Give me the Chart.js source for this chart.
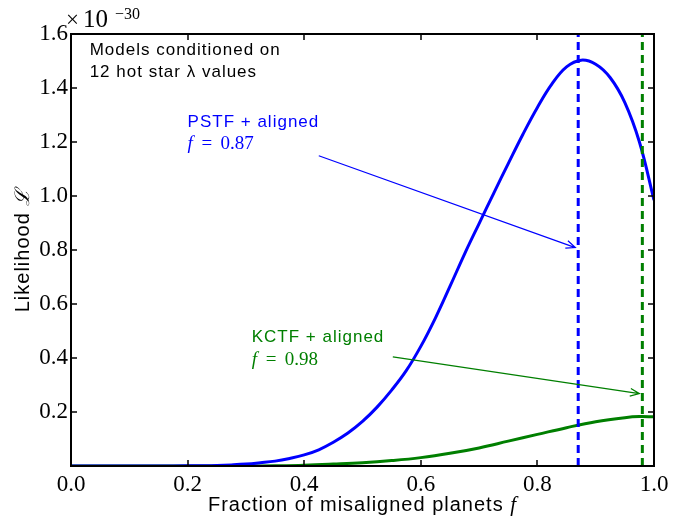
<!DOCTYPE html>
<html>
<head>
<meta charset="utf-8">
<script src="https://cdn.jsdelivr.net/npm/chart.js@4.4.0/dist/chart.umd.min.js"></script>
<style>
  html, body { margin: 0; padding: 0; background: #fff; }
  #wrap { width: 685px; height: 518px; }
</style>
</head>
<body>
<div id="wrap"><canvas id="likelihood-chart" width="685" height="518"></canvas></div>
<script>
// fraction of misaligned planets f, and the likelihood (x 1e-30)
var fValues = [0.0, 0.1, 0.15, 0.2, 0.225, 0.25, 0.275, 0.3, 0.325, 0.35, 0.375, 0.4, 0.425, 0.45, 0.475, 0.5, 0.525, 0.55, 0.575, 0.6, 0.625, 0.65, 0.675, 0.7, 0.725, 0.75, 0.775, 0.8, 0.825, 0.85, 0.875, 0.9, 0.925, 0.95, 0.975, 1.0];
var pstfLikelihood = [0, 0, 0, 0.0005, 0.001, 0.002, 0.004, 0.007, 0.012, 0.018, 0.028, 0.041, 0.06, 0.088, 0.122, 0.165, 0.218, 0.281, 0.353, 0.443, 0.548, 0.665, 0.785, 0.898, 1.01, 1.12, 1.228, 1.328, 1.415, 1.478, 1.503, 1.488, 1.438, 1.346, 1.20, 0.985];

var fValuesKctf = [0.0, 0.1, 0.2, 0.3, 0.35, 0.4, 0.45, 0.5, 0.55, 0.6, 0.65, 0.7, 0.75, 0.8, 0.85, 0.9, 0.95, 0.975, 1.0];
var kctfLikelihood = [0, 0, 0, 0, 0.001, 0.003, 0.007, 0.012, 0.02, 0.031, 0.047, 0.067, 0.092, 0.117, 0.142, 0.164, 0.179, 0.183, 0.182];

// best fit f for each model
var pstfBest = 0.87;
var kctfBest = 0.98;

var xTicks = [0.0, 0.2, 0.4, 0.6, 0.8, 1.0];
var yTicks = [0.2, 0.4, 0.6, 0.8, 1.0, 1.2, 1.4, 1.6];

var blue = '#0000ff';
var green = '#007f00';

// text and arrows, in data coordinates
var notes = [
    { text: 'Models conditioned on', f: 0.032, y: 1.523, color: '#000' },
    { text: '12 hot star \u03bb values', f: 0.032, y: 1.442, color: '#000' },
    { text: 'PSTF + aligned', f: 0.2, y: 1.257, color: blue },
    { math: '0.87', f: 0.2, y: 1.175, color: blue },
    { text: 'KCTF + aligned', f: 0.31, y: 0.46, color: green },
    { math: '0.98', f: 0.31, y: 0.375, color: green }
];
var arrows = [
    { from: [0.425, 1.149], to: [0.865, 0.809], color: blue },
    { from: [0.552, 0.404], to: [0.975, 0.268], color: green }
];

function toPoints(xs, ys) {
    var pts = [];
    for (var i = 0; i < xs.length; i++) {
        pts.push({ x: xs[i], y: ys[i] });
    }
    return pts;
}

var sans = '"Liberation Sans", Arial, sans-serif';
var serif = '"Liberation Serif", "Times New Roman", serif';

var decorPlugin = {
    id: 'decor',
    afterDraw: function (chart) {
        var ctx = chart.ctx;
        var xs = chart.scales.x;
        var ys = chart.scales.y;
        var a = chart.chartArea;
        ctx.save();

        // inward ticks on all four sides
        ctx.strokeStyle = '#000';
        ctx.lineWidth = 1.5;
        ctx.beginPath();
        xTicks.forEach(function (v) {
            var px = Math.round(xs.getPixelForValue(v));
            ctx.moveTo(px, a.bottom); ctx.lineTo(px, a.bottom - 6);
            ctx.moveTo(px, a.top); ctx.lineTo(px, a.top + 6);
        });
        yTicks.forEach(function (v) {
            var py = Math.round(ys.getPixelForValue(v));
            ctx.moveTo(a.left, py); ctx.lineTo(a.left + 6, py);
            ctx.moveTo(a.right, py); ctx.lineTo(a.right - 6, py);
        });
        ctx.stroke();

        // frame
        ctx.lineWidth = 2;
        ctx.strokeRect(a.left, a.top, a.right - a.left, a.bottom - a.top);

        // annotation text
        ctx.textBaseline = 'alphabetic';
        ctx.textAlign = 'left';
        notes.forEach(function (n) {
            var px = xs.getPixelForValue(n.f);
            var py = ys.getPixelForValue(n.y);
            ctx.fillStyle = n.color;
            if (n.text) {
                ctx.font = '17px ' + sans;
                ctx.letterSpacing = '1px';
                ctx.fillText(n.text, px, py);
                ctx.letterSpacing = '0px';
            } else {
                ctx.font = 'italic 19px ' + serif;
                ctx.fillText('f', px, py);
                ctx.font = '19px ' + serif;
                ctx.fillText('=', px + 14, py);
                ctx.fillText(n.math, px + 33, py);
            }
        });

        // arrows
        arrows.forEach(function (ar) {
            var x0 = xs.getPixelForValue(ar.from[0]), y0 = ys.getPixelForValue(ar.from[1]);
            var x1 = xs.getPixelForValue(ar.to[0]), y1 = ys.getPixelForValue(ar.to[1]);
            var ang = Math.atan2(y1 - y0, x1 - x0);
            ctx.strokeStyle = ar.color;
            ctx.lineWidth = 1.2;
            ctx.beginPath();
            ctx.moveTo(x0, y0); ctx.lineTo(x1, y1);
            ctx.moveTo(x1 - 10 * Math.cos(ang - 0.4), y1 - 10 * Math.sin(ang - 0.4));
            ctx.lineTo(x1, y1);
            ctx.lineTo(x1 - 10 * Math.cos(ang + 0.4), y1 - 10 * Math.sin(ang + 0.4));
            ctx.stroke();
        });

        // offset text above the y axis
        ctx.fillStyle = '#000';
        ctx.font = '23px ' + serif;
        ctx.fillText('\u00d7', a.left - 5, a.top - 7);
        ctx.font = '25px ' + serif;
        ctx.fillText('10', a.left + 12, a.top - 7);
        ctx.font = '16px ' + serif;
        ctx.fillText('\u221230', a.left + 44, a.top - 15);

        // x axis title
        ctx.font = '20px ' + sans;
        ctx.letterSpacing = '1px';
        var xt = 'Fraction of misaligned planets ';
        var w = ctx.measureText(xt).width;
        ctx.font = 'italic 21px ' + serif;
        var wf = ctx.measureText('f').width;
        var cx = (a.left + a.right) / 2;
        var left = cx - (w + wf) / 2;
        ctx.font = '20px ' + sans;
        ctx.fillText(xt, left, 511);
        ctx.letterSpacing = '0px';
        ctx.font = 'italic 21px ' + serif;
        ctx.fillText('f', left + w, 511);

        // y axis title
        ctx.translate(29, (a.top + a.bottom) / 2);
        ctx.rotate(-Math.PI / 2);
        ctx.font = '20px ' + sans;
        ctx.letterSpacing = '1px';
        var yt = 'Likelihood ';
        var wy = ctx.measureText(yt).width;
        ctx.font = 'italic 20px ' + serif;
        var wl = ctx.measureText('\u2112').width;
        ctx.font = '20px ' + sans;
        ctx.fillText(yt, -(wy + wl) / 2, 0);
        ctx.letterSpacing = '0px';
        ctx.font = 'italic 20px ' + serif;
        ctx.fillText('\u2112', -(wy + wl) / 2 + wy, 0);

        ctx.restore();
    }
};

var ctx = document.getElementById('likelihood-chart').getContext('2d');
var chart = new Chart(ctx, {
    type: 'scatter',
    data: {
        datasets: [{
            label: 'PSTF best f',
            data: [{ x: pstfBest, y: 0 }, { x: pstfBest, y: 1.6 }],
            showLine: true, borderColor: blue, borderWidth: 3,
            borderDash: [8, 5], pointRadius: 0, order: 1
        }, {
            label: 'KCTF best f',
            data: [{ x: kctfBest, y: 0 }, { x: kctfBest, y: 1.6 }],
            showLine: true, borderColor: green, borderWidth: 3,
            borderDash: [8, 5], pointRadius: 0, order: 2
        }, {
            label: 'PSTF + aligned',
            data: toPoints(fValues, pstfLikelihood),
            showLine: true, borderColor: blue, borderWidth: 3,
            tension: 0.4, pointRadius: 0, order: 3
        }, {
            label: 'KCTF + aligned',
            data: toPoints(fValuesKctf, kctfLikelihood),
            showLine: true, borderColor: green, borderWidth: 3,
            tension: 0.4, pointRadius: 0, order: 4
        }]
    },
    options: {
        responsive: false,
        animation: false,
        devicePixelRatio: 1,
        layout: { padding: { top: 34, right: 31, left: 0, bottom: 0 } },
        plugins: { legend: { display: false }, tooltip: { enabled: false } },
        scales: {
            x: {
                type: 'linear', min: 0, max: 1,
                afterBuildTicks: function (scale) {
                    scale.ticks = xTicks.map(function (v) { return { value: v }; });
                },
                afterFit: function (scale) { scale.height = 52; },
                grid: { display: false, drawTicks: false },
                border: { display: false },
                ticks: {
                    padding: 5, color: '#000',
                    font: { family: 'Liberation Serif', size: 23 },
                    maxRotation: 0,
                    callback: function (v) { return v.toFixed(1); }
                }
            },
            y: {
                type: 'linear', min: 0, max: 1.6,
                afterBuildTicks: function (scale) {
                    scale.ticks = yTicks.map(function (v) { return { value: v }; });
                },
                afterFit: function (scale) { scale.width = 71; },
                grid: { display: false, drawTicks: false },
                border: { display: false },
                ticks: {
                    padding: 3, color: '#000',
                    font: { family: 'Liberation Serif', size: 23 },
                    callback: function (v) { return v.toFixed(1); }
                }
            }
        }
    },
    plugins: [decorPlugin]
});
</script>
</body>
</html>
